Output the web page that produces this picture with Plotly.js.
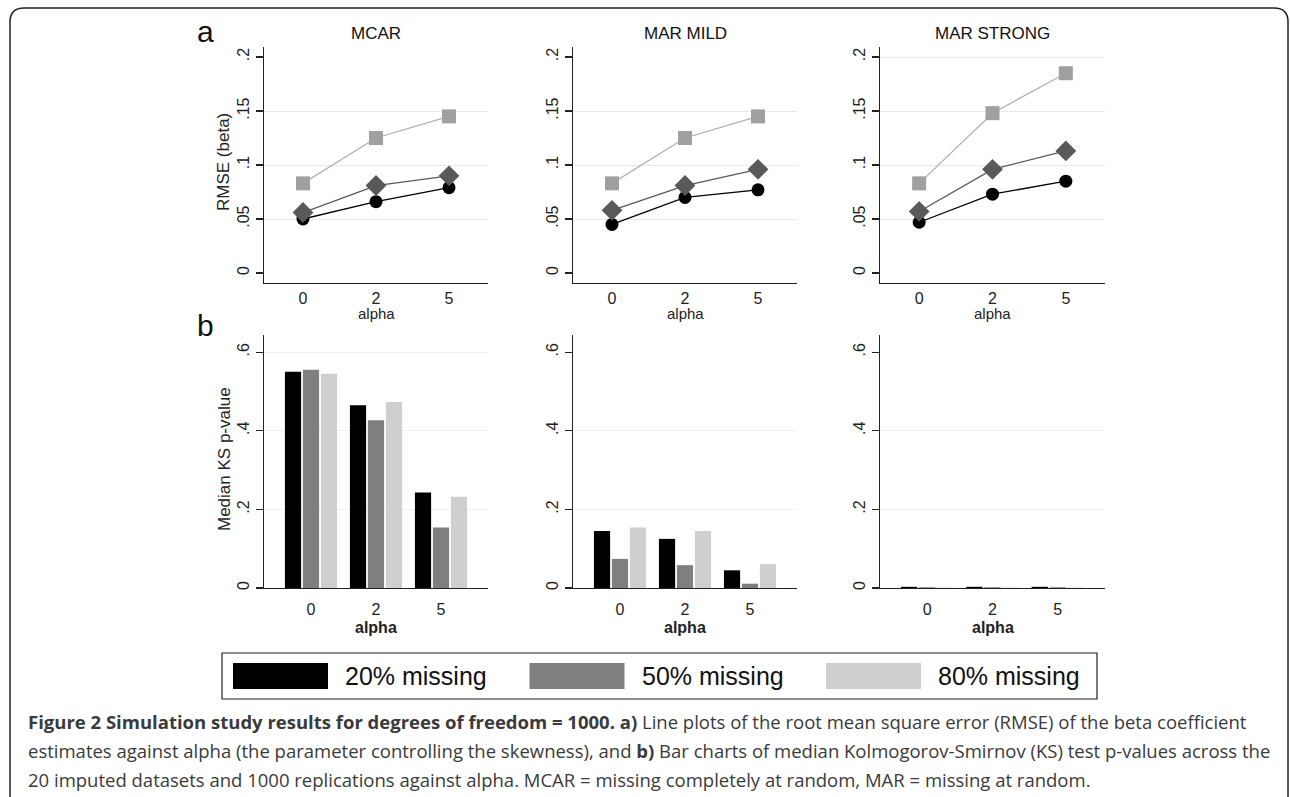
<!DOCTYPE html>
<html>
<head>
<meta charset="utf-8">
<script src="https://cdn.plot.ly/plotly-3.0.1.min.js"></script>
<style>html,body{margin:0;padding:0;background:#fff;}#chart{width:1290px;height:797px;}</style>
</head>
<body>
<div id="chart"></div>
<script>
// ---------- data ----------
const alphaLabels = ['0', '2', '5'];
const panelTitles = ['MCAR', 'MAR MILD', 'MAR STRONG'];
const seriesNames = ['20% missing', '50% missing', '80% missing'];

// RMSE (beta), panel a
const rmseMCAR20 = [0.050, 0.066, 0.079];
const rmseMCAR50 = [0.056, 0.081, 0.090];
const rmseMCAR80 = [0.083, 0.125, 0.145];
const rmseMILD20 = [0.045, 0.070, 0.077];
const rmseMILD50 = [0.058, 0.081, 0.096];
const rmseMILD80 = [0.083, 0.125, 0.145];
const rmseSTRONG20 = [0.047, 0.073, 0.085];
const rmseSTRONG50 = [0.057, 0.096, 0.113];
const rmseSTRONG80 = [0.083, 0.148, 0.185];

// Median KS p-value, panel b
const ksMCAR20 = [0.550, 0.465, 0.243];
const ksMCAR50 = [0.555, 0.427, 0.154];
const ksMCAR80 = [0.545, 0.473, 0.232];
const ksMILD20 = [0.145, 0.125, 0.045];
const ksMILD50 = [0.074, 0.058, 0.011];
const ksMILD80 = [0.154, 0.145, 0.061];
const ksSTRONG20 = [0.003, 0.003, 0.003];
const ksSTRONG50 = [0.002, 0.002, 0.002];
const ksSTRONG80 = [0.001, 0.001, 0.001];

const rmseTickVals = [0, 0.05, 0.1, 0.15, 0.2];
const rmseTickText = ['0', '.05', '.1', '.15', '.2'];
const ksTickVals = [0, 0.2, 0.4, 0.6];
const ksTickText = ['0', '.2', '.4', '.6'];

// ---------- styling ----------
const W = 1290, H = 797;
const px = x => x / W;
const py = y => 1 - y / H;
const FONT = '"Liberation Sans", Arial, sans-serif';
const barColors = ['#000000', '#7f7f7f', '#cfcfcf'];
const markerColors = ['#000000', '#595959', '#a0a0a0'];
const lineColors = ['#000000', '#5a5a5a', '#b0b0b0'];
const markerSymbols = ['circle', 'diamond', 'square'];
const markerSizes = [13, 16, 14];

const rmseSets = [
  [rmseMCAR20, rmseMCAR50, rmseMCAR80],
  [rmseMILD20, rmseMILD50, rmseMILD80],
  [rmseSTRONG20, rmseSTRONG50, rmseSTRONG80]
];
const ksSets = [
  [ksMCAR20, ksMCAR50, ksMCAR80],
  [ksMILD20, ksMILD50, ksMILD80],
  [ksSTRONG20, ksSTRONG50, ksSTRONG80]
];

const colLeft = [264, 573, 880];
const colRight = [488, 797, 1105];
const topRow = [283, 47];     // bottom, top (px)
const botRow = [588, 335];
const rmseGrid = [[0.05, 0.1, 0.15], [0.05, 0.1, 0.15], [0.05, 0.1, 0.15, 0.2]];
const ksGrid = [[0.2, 0.4, 0.6], [0.2, 0.4], [0.2, 0.4]];

const traces = [];
const layout = {
  width: W, height: H,
  margin: {l: 0, r: 0, t: 0, b: 0},
  paper_bgcolor: '#ffffff', plot_bgcolor: '#ffffff',
  showlegend: false,
  barmode: 'group', bargap: 0.17, bargroupgap: 0.1,
  font: {family: FONT, color: '#222'},
  annotations: [], shapes: []
};

function axBase() {
  return {
    showline: true, linecolor: '#222', linewidth: 1.3,
    zeroline: false, fixedrange: true,
    tickfont: {family: FONT, size: 16, color: '#222'}
  };
}

for (let p = 0; p < 3; p++) {
  const top = p + 1, bot = p + 4;
  const xt = 'x' + (top === 1 ? '' : top), yt = 'y' + (top === 1 ? '' : top);
  const xb = 'x' + bot, yb = 'y' + bot;
  for (let s = 0; s < 3; s++) {
    traces.push({
      type: 'scatter', mode: 'lines+markers',
      x: alphaLabels, y: rmseSets[p][s], name: seriesNames[s],
      xaxis: xt, yaxis: yt,
      line: {color: lineColors[s], width: 1.3},
      marker: {symbol: markerSymbols[s], size: markerSizes[s], color: markerColors[s]},
      hoverinfo: 'skip'
    });
  }
  for (let s = 0; s < 3; s++) {
    traces.push({
      type: 'bar', x: alphaLabels, y: ksSets[p][s], name: seriesNames[s],
      xaxis: xb, yaxis: yb,
      marker: {color: barColors[s], line: {width: 0}},
      hoverinfo: 'skip'
    });
  }
  const dom = [px(colLeft[p]), px(colRight[p])];
  // top row axes
  layout['xaxis' + (top === 1 ? '' : top)] = Object.assign(axBase(), {
    domain: dom, anchor: yt, type: 'category', categoryarray: alphaLabels,
    range: [-0.534, 2.534], ticks: '', showgrid: false, ticklabelstandoff: 0,
    tickfont: {family: FONT, size: 16, color: '#222'}
  });
  layout['yaxis' + (top === 1 ? '' : top)] = Object.assign(axBase(), {
    domain: [py(topRow[0]), py(topRow[1])], anchor: xt,
    range: [-0.00926, 0.20926], tickvals: rmseTickVals, ticktext: rmseTickText,
    tickangle: -90, ticks: 'outside', ticklen: 7, tickcolor: '#222', tickwidth: 1.3,
    showgrid: false,
    minor: {tickvals: rmseGrid[p], showgrid: true, gridcolor: '#e9e9e9', gridwidth: 1, ticks: ''}
  });
  // bottom row axes
  layout['xaxis' + bot] = Object.assign(axBase(), {
    domain: dom, anchor: yb, type: 'category', categoryarray: alphaLabels,
    range: [-0.723, 2.723], ticks: '', showgrid: false, ticklabelstandoff: 6
  });
  layout['yaxis' + bot] = Object.assign(axBase(), {
    domain: [py(botRow[0]), py(botRow[1])], anchor: xb,
    range: [0, 0.6437], tickvals: ksTickVals, ticktext: ksTickText,
    tickangle: -90, ticks: 'outside', ticklen: 7, tickcolor: '#222', tickwidth: 1.3,
    showgrid: false,
    minor: {tickvals: ksGrid[p], showgrid: true, gridcolor: '#efefef', gridwidth: 1, ticks: ''}
  });
  const cx = px((colLeft[p] + colRight[p]) / 2);
  layout.annotations.push(
    {text: panelTitles[p], xref: 'paper', yref: 'paper', x: cx, y: py(33), xanchor: 'center', yanchor: 'middle',
     showarrow: false, font: {family: FONT, size: 17, color: '#111'}},
    {text: 'alpha', xref: 'paper', yref: 'paper', x: cx, y: py(303), xanchor: 'center', yanchor: 'top',
     showarrow: false, font: {family: FONT, size: 15, color: '#222'}},
    {text: '<b>alpha</b>', xref: 'paper', yref: 'paper', x: cx, y: py(627), xanchor: 'center', yanchor: 'middle',
     showarrow: false, font: {family: FONT, size: 16, color: '#222'}}
  );
}

// y titles and panel letters
layout.annotations.push(
  {text: 'RMSE (beta)', xref: 'paper', yref: 'paper', x: px(224), y: py(162), textangle: -90,
   xanchor: 'center', yanchor: 'middle', showarrow: false, font: {family: FONT, size: 17, color: '#222'}},
  {text: 'Median KS p-value', xref: 'paper', yref: 'paper', x: px(224), y: py(459), textangle: -90,
   xanchor: 'center', yanchor: 'middle', showarrow: false, font: {family: FONT, size: 17, color: '#222'}},
  {text: 'a', xref: 'paper', yref: 'paper', x: px(205), y: py(31), xanchor: 'center', yanchor: 'middle',
   showarrow: false, font: {family: FONT, size: 30, color: '#111'}},
  {text: 'b', xref: 'paper', yref: 'paper', x: px(205), y: py(325), xanchor: 'center', yanchor: 'middle',
   showarrow: false, font: {family: FONT, size: 30, color: '#111'}}
);

// legend (custom, wide swatches)
const legBox = {x0: 222, x1: 1097, y0: 653, y1: 699};
layout.shapes.push({type: 'rect', xref: 'paper', yref: 'paper',
  x0: px(legBox.x0), x1: px(legBox.x1), y0: py(legBox.y1), y1: py(legBox.y0),
  line: {color: '#222', width: 1.2}, fillcolor: 'rgba(0,0,0,0)'});
for (let s = 0; s < 3; s++) {
  const sx = 233 + s * 296.5;
  layout.shapes.push({type: 'rect', xref: 'paper', yref: 'paper',
    x0: px(sx), x1: px(sx + 95), y0: py(689), y1: py(663),
    line: {width: 0}, fillcolor: barColors[s]});
  layout.annotations.push({text: seriesNames[s], xref: 'paper', yref: 'paper',
    x: px(sx + 110), y: py(676), xanchor: 'left', yanchor: 'middle', showarrow: false,
    font: {family: FONT, size: 25, color: '#111'}});
}

// outer frame with rounded corners
const r = 14, fx0 = 10, fx1 = 1288, fy0 = 8, fy1 = 797;
const P = (x, y) => px(x) + ',' + py(y);
layout.shapes.push({type: 'path', xref: 'paper', yref: 'paper',
  path: 'M ' + P(fx0, fy1) + ' L ' + P(fx0, fy0 + r) + ' Q ' + P(fx0, fy0) + ' ' + P(fx0 + r, fy0) +
        ' L ' + P(fx1 - r, fy0) + ' Q ' + P(fx1, fy0) + ' ' + P(fx1, fy0 + r) + ' L ' + P(fx1, fy1),
  line: {color: '#222', width: 1.5}});

// caption
const CAP = '"Open Sans", "Noto Sans", sans-serif';
const captionLines = [
  '<b>Figure 2 Simulation study results for degrees of freedom = 1000. a)</b> Line plots of the root mean square error (RMSE) of the beta coefficient',
  'estimates against alpha (the parameter controlling the skewness), and <b>b)</b> Bar charts of median Kolmogorov-Smirnov (KS) test p-values across the',
  '20 imputed datasets and 1000 replications against alpha. MCAR = missing completely at random, MAR = missing at random.'
];
const capY = [721, 750, 779];
captionLines.forEach((t, i) => layout.annotations.push({text: t, xref: 'paper', yref: 'paper',
  x: px(26), y: py(capY[i]), xanchor: 'left', yanchor: 'middle', showarrow: false,
  font: {family: CAP, size: 18.5, color: '#3a3a3a'}}));

Plotly.newPlot('chart', traces, layout, {displayModeBar: false, staticPlot: true});
</script>
</body>
</html>
